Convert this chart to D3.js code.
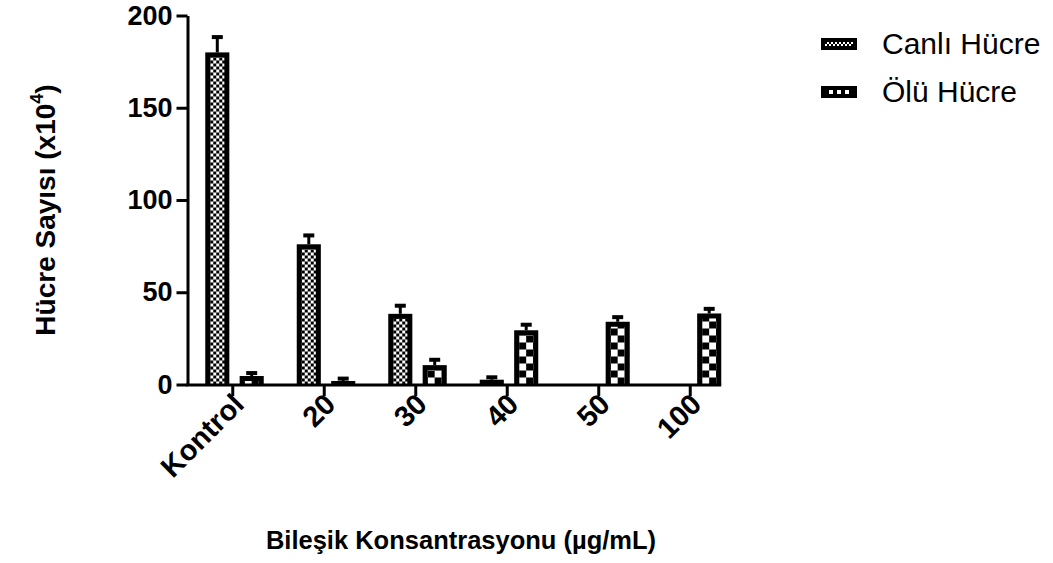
<!DOCTYPE html>
<html>
<head>
<meta charset="utf-8">
<script src="https://cdn.jsdelivr.net/npm/d3@7"></script>
<style>
body{margin:0;background:#fff}
text{font-family:"Liberation Sans",Arial,sans-serif}
</style>
</head>
<body>
<div id="chart"></div>
<script>
let categories = ["Kontrol","20","30","40","50","100"]
let seriesNames = ["Canlı Hücre","Ölü Hücre"]
let canliValues = [180, 76, 38.3, 2.6, 0, 0]
let canliErrors = [8.3, 4.8, 4.4, 1.3, 0, 0]
let oluValues = [4.6, 1.9, 10.5, 29.4, 34, 38.5]
let oluErrors = [1.6, 1.3, 2.9, 3, 2.5, 2.5]
let yTicks = [0,50,100,150,200]

let width = 1053, height = 563
let border = 5

let svg = d3.select("#chart").append("svg")
  .attr("width", width)
  .attr("height", height)
  .style("background","#fff")
let defs = svg.append("defs")

//scales
let x0 = d3.scaleBand().domain(categories).range([187, 736])
let x1 = d3.scaleBand().domain(seriesNames).range([-27.5, 31]).paddingInner(0.3)
let y = d3.scaleLinear().domain([0,200]).range([384.5, 15.5])

//checker size per series
let cellSize = {"Canlı Hücre": 3, "Ölü Hücre": 7}

function makePattern(id, cell, px, py){
  let p = defs.append("pattern")
    .attr("id", id)
    .attr("patternUnits","userSpaceOnUse")
    .attr("x", px).attr("y", py)
    .attr("width", cell*2).attr("height", cell*2)
  p.append("rect").attr("width", cell*2).attr("height", cell*2).attr("fill","#fff")
  p.append("rect").attr("width", cell).attr("height", cell).attr("fill","#000")
  p.append("rect").attr("x", cell).attr("y", cell).attr("width", cell).attr("height", cell).attr("fill","#000")
}

//bar data
let bars = []
categories.forEach((c,i) => {
  bars.push({cat:c, series:seriesNames[0], value:canliValues[i], err:canliErrors[i]})
  bars.push({cat:c, series:seriesNames[1], value:oluValues[i], err:oluErrors[i]})
})

let center = c => x0(c) + x0.bandwidth()/2

bars.filter(d => d.value > 0).forEach((d,i) => {
  let bx = center(d.cat) + x1(d.series)
  let bw = x1.bandwidth()
  let by = y(d.value)
  let bh = y(0) - by
  svg.append("rect")
    .attr("x", bx).attr("y", by)
    .attr("width", bw).attr("height", bh)
    .attr("fill","#000")
  if (bh > border){
    let id = "pat" + i
    makePattern(id, cellSize[d.series], bx + border, y(0))
    svg.append("rect")
      .attr("x", bx + border).attr("y", by + border)
      .attr("width", bw - 2*border).attr("height", bh - border)
      .attr("fill","url(#" + id + ")")
  }
  //error bar
  let cx = bx + bw/2
  svg.append("line")
    .attr("x1", cx).attr("x2", cx)
    .attr("y1", by).attr("y2", y(d.value + d.err))
    .attr("stroke","#000").attr("stroke-width",3)
  svg.append("line")
    .attr("x1", cx - 5.5).attr("x2", cx + 5.5)
    .attr("y1", y(d.value + d.err)).attr("y2", y(d.value + d.err))
    .attr("stroke","#000").attr("stroke-width",4)
})

//y axis
let yAxis = svg.append("g")
  .attr("transform","translate(187.5,0)")
  .call(d3.axisLeft(y).tickValues(yTicks).tickSize(11).tickSizeOuter(0).tickPadding(4))
yAxis.select(".domain").attr("stroke-width",3)
yAxis.selectAll(".tick line").attr("stroke-width",3)
yAxis.selectAll(".tick text")
  .style("font-family",'"Liberation Sans",Arial,sans-serif')
  .style("font-size","27px").style("font-weight","bold").attr("fill","#000")

//x axis
let xAxis = svg.append("g")
  .attr("transform","translate(0,385)")
  .call(d3.axisBottom(x0).tickSize(11).tickSizeOuter(0))
xAxis.select(".domain").remove()
xAxis.append("line")
  .attr("x1", 186).attr("x2", center(categories[categories.length-1]) + 31)
  .attr("stroke","#000").attr("stroke-width",3)
xAxis.selectAll(".tick line").attr("stroke-width",3)
xAxis.selectAll(".tick text")
  .style("font-family",'"Liberation Sans",Arial,sans-serif')
  .style("font-size","29px").style("font-weight","bold").attr("fill","#000")
  .attr("text-anchor","end")
  .attr("dy", null)
  .attr("y", 0)
  .attr("transform","translate(13,21) rotate(-45)")

//axis titles
let yTitle = svg.append("text")
  .attr("transform","translate(55,210) rotate(-90)")
  .attr("text-anchor","middle")
  .style("font-size","28px").style("font-weight","bold")
yTitle.append("tspan").text("Hücre Sayısı (x10")
yTitle.append("tspan").text("4").style("font-size","18px").attr("dy",-12)
yTitle.append("tspan").text(")").attr("dy",12)

svg.append("text")
  .attr("x", 461).attr("y", 549)
  .attr("text-anchor","middle")
  .style("font-size","25.5px").style("font-weight","bold")
  .text("Bileşik Konsantrasyonu (µg/mL)")

//legend
seriesNames.forEach((s,i) => {
  let ly = 38 + i*48
  svg.append("rect")
    .attr("x", 821).attr("y", ly)
    .attr("width", 36).attr("height", 12)
    .attr("fill","#000")
  let id = "legpat" + i
  makePattern(id, i == 0 ? 2 : 4, 825, ly + 4)
  svg.append("rect")
    .attr("x", 825).attr("y", ly + 4)
    .attr("width", 28).attr("height", 4)
    .attr("fill","url(#" + id + ")")
  svg.append("text")
    .attr("x", 882).attr("y", ly + 16)
    .style("font-size","30px")
    .text(s)
})
</script>
</body>
</html>
